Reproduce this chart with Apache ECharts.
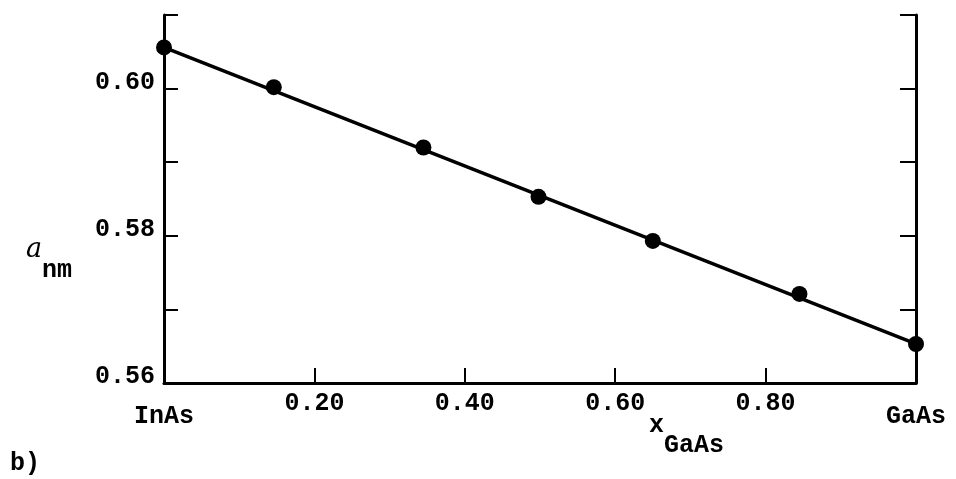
<!DOCTYPE html>
<html><head><meta charset="utf-8">
<script src="https://cdn.jsdelivr.net/npm/echarts@6/dist/echarts.min.js"></script>
<style>html,body{margin:0;padding:0;background:#fff}#c{width:956px;height:479px}</style>
</head><body><div id="c"></div>
<script>
// Composition x(GaAs) and measured lattice constants (nm)
var xValues = [0.0, 0.146, 0.345, 0.498, 0.650, 0.845, 1.0];
var aValues = [0.6056, 0.6002, 0.5920, 0.5853, 0.5793, 0.5721, 0.5653];
// Vegard's-law line end points
var lineX = [0.0, 1.0];
var lineA = [0.6056, 0.5653];
// Tick labels
var xEndLabels = {0: 'InAs', 1: 'GaAs'};
var yLabelValues = [0.56, 0.58, 0.60];

var FONT = 'Liberation Mono';
var FS = 25;
var chart = echarts.init(document.getElementById('c'), null, {renderer: 'canvas'});
var pts = xValues.map(function (x, i) { return [x, aValues[i]]; });
var linePts = lineX.map(function (x, i) { return [x, lineA[i]]; });

var axisLineStyle = {color: '#000', width: 3};
var txt = {fontFamily: FONT, fontSize: FS, fontWeight: 'bold', color: '#000'};
chart.setOption({
  animation: false,
  backgroundColor: '#fff',
  grid: {left: 164, right: 40, top: 15, bottom: 96},
  xAxis: {
    type: 'value', min: 0, max: 1, interval: 0.2,
    axisLine: {show: true, lineStyle: axisLineStyle},
    axisTick: {show: true, inside: true, length: 15, lineStyle: {color: '#000', width: 2}},
    splitLine: {show: false},
    axisLabel: {
      margin: 8,
      fontFamily: FONT, fontSize: FS, fontWeight: 'bold', color: '#000',
      formatter: function (v) {
        var r = Math.round(v * 100) / 100;
        if (r === 0) return '{e|' + xEndLabels[0] + '}';
        if (r === 1) return '{e|' + xEndLabels[1] + '}';
        return '{n|' + r.toFixed(2) + '}';
      },
      rich: {
        e: Object.assign({padding: [13, 0, 0, 0]}, txt),
        n: Object.assign({}, txt)
      }
    }
  },
  yAxis: [{
    type: 'value', min: 0.56, max: 0.61, interval: 0.01, position: 'left',
    axisLine: {show: true, lineStyle: axisLineStyle},
    axisTick: {show: true, inside: true, length: 14, lineStyle: {color: '#000', width: 2}},
    splitLine: {show: false},
    axisLabel: {
      margin: 9, fontFamily: FONT, fontSize: FS, fontWeight: 'bold', color: '#000',
      formatter: function (v) {
        var r = Math.round(v * 100) / 100;
        for (var i = 0; i < yLabelValues.length; i++) {
          if (Math.abs(yLabelValues[i] - r) < 1e-6) return '{y|' + r.toFixed(2) + '}';
        }
        return '';
      },
      rich: {y: Object.assign({padding: [0, 0, 12, 0]}, txt)}
    }
  }, {
    type: 'value', min: 0.56, max: 0.61, interval: 0.01, position: 'right',
    axisLine: {show: true, lineStyle: axisLineStyle},
    axisTick: {show: true, inside: true, length: 16, lineStyle: {color: '#000', width: 2}},
    splitLine: {show: false},
    axisLabel: {show: false}
  }],
  series: [{
    type: 'line', data: linePts, showSymbol: false, symbol: 'none',
    lineStyle: {color: '#000', width: 3.5}, z: 2
  }, {
    type: 'scatter', data: pts, symbol: 'circle', symbolSize: 16,
    itemStyle: {color: '#000', opacity: 1}, z: 3
  }],
  graphic: [
    {type: 'text', left: 26, top: 236, style: {text: 'a', fontFamily: 'DejaVu Serif', fontStyle: 'italic', fontSize: 27, fill: '#000'}},
    {type: 'text', left: 42, top: 258, style: {text: 'nm', fontFamily: FONT, fontWeight: 'bold', fontSize: FS, fill: '#000'}},
    {type: 'text', left: 649, top: 413, style: {text: 'x', fontFamily: FONT, fontWeight: 'bold', fontSize: FS, fill: '#000'}},
    {type: 'text', left: 664, top: 433, style: {text: 'GaAs', fontFamily: FONT, fontWeight: 'bold', fontSize: FS, fill: '#000'}},
    {type: 'text', left: 10, top: 451, style: {text: 'b)', fontFamily: FONT, fontWeight: 'bold', fontSize: FS, fill: '#000'}}
  ]
});
</script></body></html>
